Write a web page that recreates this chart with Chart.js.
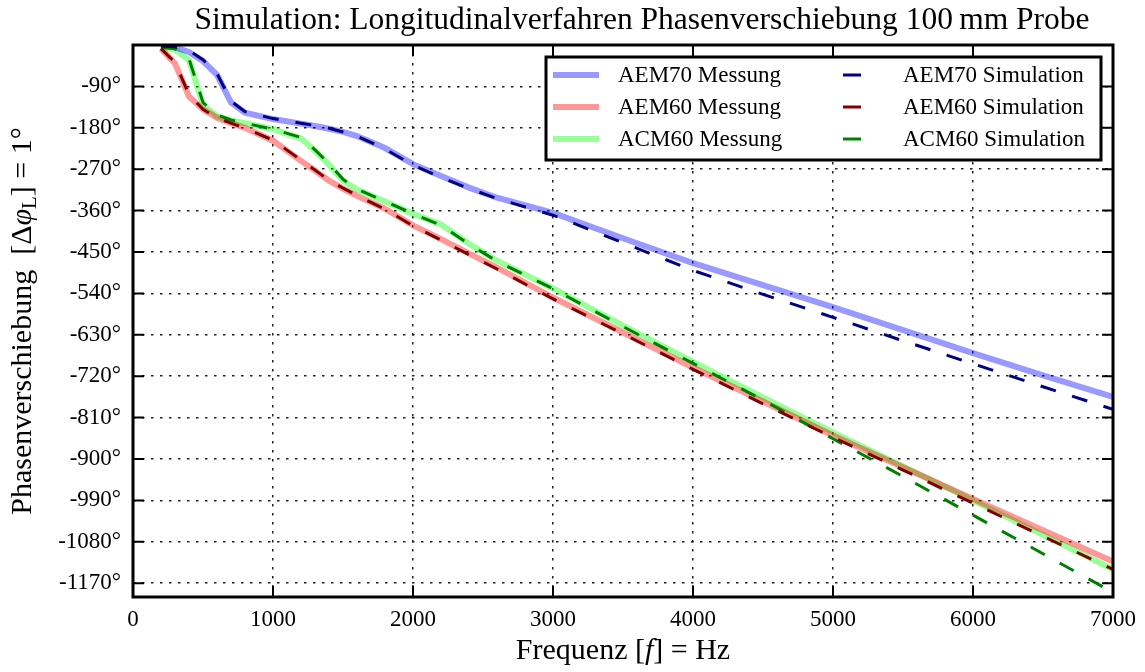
<!DOCTYPE html>
<html>
<head>
<meta charset="utf-8">
<title>Longitudinalverfahren Phasenverschiebung</title>
<script src="https://cdn.jsdelivr.net/npm/chart.js@4.4.0/dist/chart.umd.min.js"></script>
<style>
  html, body { margin: 0; padding: 0; background: #fff; }
</style>
</head>
<body>
<canvas id="phase-chart" width="1145" height="672"></canvas>
<script>
const SERIF = '"Liberation Serif", "DejaVu Serif", serif';

// Frequenzen in Hz
const freqs = [200, 300, 400, 500, 600, 700, 800, 1000, 1200, 1300, 1400, 1500, 1600, 1800,
  2000, 2200, 2400, 2600, 3000, 3500, 4000, 4500, 5000, 5500, 6000, 6500, 7000];

// Phasenverschiebung in Grad
const aem70Messung = [-2, -5, -15, -35, -65, -125, -147, -161, -171, -176, -182, -189, -198, -224,
  -259, -285, -310, -332, -365, -420, -474, -522, -570, -620, -670, -718, -765];
const aem70Simulation = [-2, -4, -12, -32, -62, -122, -145, -160, -170, -175, -181, -189, -198, -226,
  -261, -288, -312, -334, -370, -430, -490, -542, -592, -643, -693, -743, -792];
const aem60Messung = [-8, -40, -112, -140, -158, -170, -180, -208, -252, -273, -295, -312, -328, -356,
  -392, -422, -453, -484, -549, -625, -701, -775, -849, -918, -987, -1055, -1123];
const aem60Simulation = [-8, -38, -108, -140, -158, -170, -181, -207, -250, -272, -294, -311, -327, -357,
  -393, -424, -456, -487, -552, -628, -705, -780, -853, -924, -996, -1068, -1140];
const acm60Messung = [-5, -10, -33, -130, -155, -164, -170, -183, -203, -230, -260, -295, -314, -340,
  -367, -390, -432, -469, -529, -610, -689, -766, -842, -916, -990, -1065, -1140];
const acm60Simulation = [-5, -8, -30, -125, -152, -163, -170, -183, -201, -228, -258, -292, -313, -340,
  -367, -392, -433, -470, -530, -612, -692, -772, -856, -938, -1022, -1106, -1190];

// Achsenbeschriftung
const xTicks = [0, 1000, 2000, 3000, 4000, 5000, 6000, 7000];
const yTicks = [-90, -180, -270, -360, -450, -540, -630, -720, -810, -900, -990, -1080, -1170];

const toPoints = (vals) => freqs.map((f, i) => ({ x: f, y: vals[i] }));

const measured = (label, vals, color) => ({
  label, data: toPoints(vals), borderColor: color, borderWidth: 6,
  pointRadius: 0, tension: 0, order: 1,
});
const simulated = (label, vals, color) => ({
  label, data: toPoints(vals), borderColor: color, borderWidth: 3,
  borderDash: [16, 17], pointRadius: 0, tension: 0, order: 0,
});

const datasets = [
  measured('AEM70 Messung', aem70Messung, 'rgba(0,0,255,0.4)'),
  measured('AEM60 Messung', aem60Messung, 'rgba(255,0,0,0.4)'),
  measured('ACM60 Messung', acm60Messung, 'rgba(0,255,0,0.4)'),
  simulated('AEM70 Simulation', aem70Simulation, '#000080'),
  simulated('AEM60 Simulation', aem60Simulation, '#800000'),
  simulated('ACM60 Simulation', acm60Simulation, '#008000'),
];

// Text mit gemischten Schriftschnitten (kursiv, tiefgestellt)
function drawRich(ctx, parts, cx, baseline) {
  let total = 0;
  for (const p of parts) { ctx.font = p.font; total += ctx.measureText(p.text).width; }
  let x = cx - total / 2;
  ctx.textAlign = 'left';
  ctx.textBaseline = 'alphabetic';
  for (const p of parts) {
    ctx.font = p.font;
    ctx.fillText(p.text, x, baseline + (p.dy || 0));
    x += ctx.measureText(p.text).width;
  }
}

const decor = {
  id: 'decor',
  afterDraw(chart) {
    const { ctx, chartArea: a, scales: { x, y } } = chart;
    ctx.save();
    ctx.fillStyle = '#000';
    ctx.strokeStyle = '#000';

    // Teilstriche auf allen vier Seiten, nach innen
    ctx.lineWidth = 2;
    ctx.beginPath();
    for (const v of xTicks) {
      const px = x.getPixelForValue(v);
      ctx.moveTo(px, a.bottom); ctx.lineTo(px, a.bottom - 11);
      ctx.moveTo(px, a.top); ctx.lineTo(px, a.top + 11);
    }
    for (const v of yTicks) {
      const py = y.getPixelForValue(v);
      ctx.moveTo(a.left, py); ctx.lineTo(a.left + 11, py);
      ctx.moveTo(a.right, py); ctx.lineTo(a.right - 11, py);
    }
    ctx.stroke();

    // Rahmen
    ctx.lineWidth = 3;
    ctx.strokeRect(a.left, a.top, a.right - a.left, a.bottom - a.top);

    const cx = (a.left + a.right) / 2;
    const cy = (a.top + a.bottom) / 2;

    // Titel
    ctx.font = `31.5px ${SERIF}`;
    ctx.textAlign = 'center';
    ctx.textBaseline = 'alphabetic';
    ctx.fillText('Simulation: Longitudinalverfahren Phasenverschiebung 100\u2009mm Probe', cx + 19, 29);

    // x-Achse
    drawRich(ctx, [
      { text: 'Frequenz [', font: `30px ${SERIF}` },
      { text: 'f', font: `italic 30px ${SERIF}` },
      { text: '] = Hz', font: `30px ${SERIF}` },
    ], cx, 659);

    // y-Achse
    ctx.save();
    ctx.translate(31, cy);
    ctx.rotate(-Math.PI / 2);
    drawRich(ctx, [
      { text: 'Phasenverschiebung  [\u0394', font: `30px ${SERIF}` },
      { text: '\u03C6', font: `italic 30px ${SERIF}` },
      { text: 'L', font: `21px ${SERIF}`, dy: 5 },
      { text: '] = 1°', font: `30px ${SERIF}` },
    ], 0, 0);
    ctx.restore();

    // Legende, zwei Spalten
    const box = { left: 546, top: 57, right: 1101, bottom: 160 };
    ctx.fillStyle = '#fff';
    ctx.fillRect(box.left, box.top, box.right - box.left, box.bottom - box.top);
    ctx.lineWidth = 3;
    ctx.strokeRect(box.left, box.top, box.right - box.left, box.bottom - box.top);
    const rows = [75, 107, 139];
    ctx.font = `23px ${SERIF}`;
    ctx.textAlign = 'left';
    ctx.textBaseline = 'middle';
    chart.data.datasets.forEach((ds, i) => {
      const col = i < 3 ? 0 : 1;
      const ry = rows[i % 3];
      ctx.strokeStyle = ds.borderColor;
      ctx.setLineDash([]);
      ctx.beginPath();
      if (col === 0) {
        ctx.lineWidth = 6;
        ctx.moveTo(553, ry); ctx.lineTo(599, ry);
      } else {
        ctx.lineWidth = 3;
        ctx.moveTo(843, ry); ctx.lineTo(861, ry);
      }
      ctx.stroke();
      ctx.fillStyle = '#000';
      ctx.fillText(ds.label, col === 0 ? 618 : 903, ry + 1);
    });
    ctx.restore();
  },
};

const gridOpts = { color: '#222', lineWidth: 1.5, drawTicks: false };
const tickFont = { family: SERIF, size: 23 };

new Chart(document.getElementById('phase-chart'), {
  type: 'line',
  data: { datasets },
  options: {
    responsive: false,
    animation: false,
    devicePixelRatio: 1,
    layout: { padding: { top: 45, right: 32, left: 0, bottom: 0 } },
    plugins: {
      legend: { display: false },
      tooltip: { enabled: false },
      title: { display: false },
    },
    scales: {
      x: {
        type: 'linear',
        min: 0,
        max: 7000,
        afterBuildTicks: (s) => { s.ticks = xTicks.map((v) => ({ value: v })); },
        afterFit: (s) => { s.height = 75; },
        grid: gridOpts,
        border: { display: false, dash: [2.5, 6.5] },
        ticks: { color: '#000', font: tickFont, padding: 9, maxRotation: 0, callback: (v) => String(v) },
      },
      y: {
        type: 'linear',
        min: -1200,
        max: 0,
        afterBuildTicks: (s) => { s.ticks = yTicks.map((v) => ({ value: v })); },
        afterFit: (s) => { s.width = 133; },
        grid: gridOpts,
        border: { display: false, dash: [2.5, 6.5] },
        ticks: { color: '#000', font: tickFont, padding: 12, callback: (v) => v + '°' },
      },
    },
  },
  plugins: [decor],
});
</script>
</body>
</html>
